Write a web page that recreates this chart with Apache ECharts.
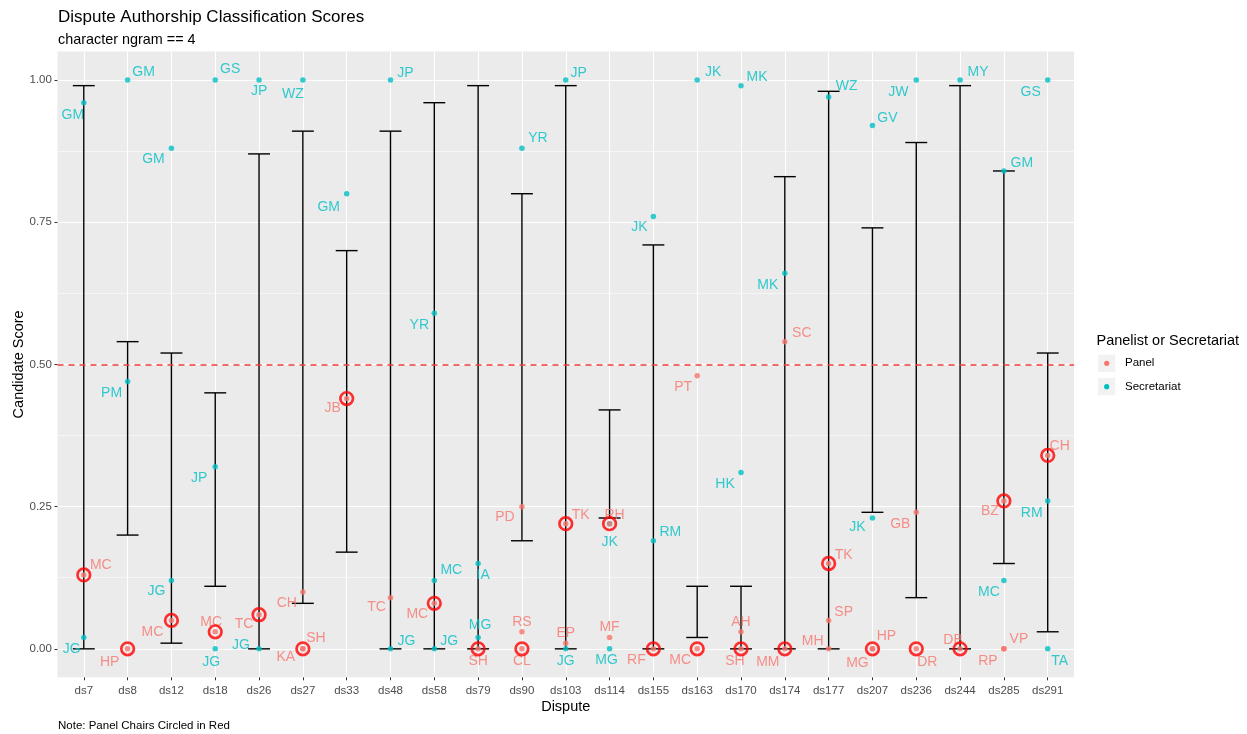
<!DOCTYPE html>
<html>
<head>
<meta charset="utf-8">
<script src="https://cdn.jsdelivr.net/npm/echarts@6/dist/echarts.min.js"></script>
<style>
  html, body { margin: 0; padding: 0; background: #ffffff; }
  #chart { width: 1247px; height: 734px; }
</style>
</head>
<body>
<div id="chart"></div>
<script>
// ---- data -------------------------------------------------------------
const disputes = ['ds7', 'ds8', 'ds12', 'ds18', 'ds26', 'ds27', 'ds33', 'ds48', 'ds58', 'ds79', 'ds90',
  'ds103', 'ds114', 'ds155', 'ds163', 'ds170', 'ds174', 'ds177', 'ds207', 'ds236', 'ds244', 'ds285', 'ds291'];

// score range per dispute (error bar ends)
const rangeLow  = [0.00, 0.20, 0.01, 0.11, 0.00, 0.08, 0.17, 0.00, 0.00, 0.00, 0.19,
  0.00, 0.23, 0.00, 0.02, 0.00, 0.00, 0.00, 0.24, 0.09, 0.00, 0.15, 0.03];
const rangeHigh = [0.99, 0.54, 0.52, 0.45, 0.87, 0.91, 0.70, 0.91, 0.96, 0.99, 0.80,
  0.99, 0.42, 0.71, 0.11, 0.11, 0.83, 0.98, 0.74, 0.89, 0.99, 0.84, 0.52];

// panelists
const panelDispute = ['ds7', 'ds8', 'ds12', 'ds18', 'ds26', 'ds27', 'ds27', 'ds27', 'ds33', 'ds48', 'ds58',
  'ds79', 'ds90', 'ds90', 'ds90', 'ds103', 'ds103', 'ds114', 'ds114', 'ds155', 'ds163', 'ds163',
  'ds170', 'ds170', 'ds174', 'ds174', 'ds177', 'ds177', 'ds177', 'ds207', 'ds207', 'ds236', 'ds236',
  'ds244', 'ds285', 'ds285', 'ds285', 'ds291'];
const panelInitials = ['MC', 'HP', 'MC', 'MC', 'TC', 'CH', 'SH', 'KA', 'JB', 'TC', 'MC',
  'SH', 'PD', 'RS', 'CL', 'TK', 'EP', 'RH', 'MF', 'RF', 'PT', 'MC',
  'AH', 'SH', 'SC', 'MM', 'TK', 'SP', 'MH', 'HP', 'MG', 'GB', 'DR',
  'DB', 'BZ', 'RP', 'VP', 'CH'];
const panelScore = [0.13, 0.00, 0.05, 0.03, 0.06, 0.10, 0.00, 0.00, 0.44, 0.09, 0.08,
  0.00, 0.25, 0.03, 0.00, 0.22, 0.01, 0.22, 0.02, 0.00, 0.48, 0.00,
  0.03, 0.00, 0.54, 0.00, 0.15, 0.05, 0.00, 0.00, 0.00, 0.24, 0.00,
  0.00, 0.26, 0.00, 0.00, 0.34];
// 1 = chair of the panel
const panelChair = [1, 1, 1, 1, 1, 0, 1, 0, 1, 0, 1,
  1, 0, 0, 1, 1, 0, 1, 0, 1, 0, 1,
  0, 1, 0, 1, 1, 0, 0, 1, 0, 0, 1,
  1, 1, 0, 0, 1];

// secretariat staff
const secDispute = ['ds7', 'ds7', 'ds8', 'ds8', 'ds12', 'ds12', 'ds18', 'ds18', 'ds18', 'ds26', 'ds26',
  'ds27', 'ds33', 'ds48', 'ds48', 'ds58', 'ds58', 'ds58', 'ds79', 'ds79', 'ds90', 'ds103', 'ds103',
  'ds114', 'ds114', 'ds155', 'ds155', 'ds163', 'ds170', 'ds170', 'ds174', 'ds177', 'ds207', 'ds207',
  'ds236', 'ds244', 'ds285', 'ds285', 'ds291', 'ds291', 'ds291'];
const secInitials = ['GM', 'JG', 'GM', 'PM', 'GM', 'JG', 'GS', 'JP', 'JG', 'JP', 'JG',
  'WZ', 'GM', 'JP', 'JG', 'YR', 'MC', 'JG', 'IA', 'MG', 'YR', 'JP', 'JG',
  'JK', 'MG', 'JK', 'RM', 'JK', 'MK', 'HK', 'MK', 'WZ', 'GV', 'JK',
  'JW', 'MY', 'GM', 'MC', 'GS', 'RM', 'TA'];
const secScore = [0.96, 0.02, 1.00, 0.47, 0.88, 0.12, 1.00, 0.32, 0.00, 1.00, 0.00,
  1.00, 0.80, 1.00, 0.00, 0.59, 0.12, 0.00, 0.15, 0.02, 0.88, 1.00, 0.00,
  0.22, 0.00, 0.76, 0.19, 1.00, 0.99, 0.31, 0.66, 0.97, 0.92, 0.23,
  1.00, 1.00, 0.84, 0.12, 1.00, 0.26, 0.00];

const yTicks = [0, 0.25, 0.5, 0.75, 1];
const yMinorTicks = [0.125, 0.375, 0.625, 0.875];
const threshold = 0.5;

// ---- text placement (px nudges of each initials label from its point) --
const panelNudge = [[17, -10], [-18, 13], [-19, 12], [-4, -10], [-15, 9], [-16, 11], [13, -11], [-17, 8],
  [-14, 10], [-14, 9], [-17, 11], [0, 12], [-17, 11], [0, -10], [0, 12], [15, -9], [0, -10], [5, -9],
  [0, -10], [-17, 11], [-14, 11], [-17, 11], [0, -10], [-6, 12], [17, -9], [-17, 13], [15, -8], [15, -8],
  [-16, -8], [14, -13], [-15, 14], [-16, 12], [11, 13], [-7, -9], [-14, 10], [-16, 12], [15, -10], [12, -9]];
const secNudge = [[-11, 12], [-12, 12], [16, -8], [-16, 12], [-18, 11], [-15, 11], [15, -11], [-16, 11],
  [-4, 13], [0, 11], [-18, -4], [-10, 14], [-18, 13], [15, -7], [16, -8], [-15, 12], [17, -10], [15, -8],
  [5, 12], [2, -12], [16, -10], [13, -7], [0, 12], [0, 18], [-3, 11], [-14, 11], [17, -9], [16, -8],
  [16, -8], [-16, 12], [-17, 12], [18, -11], [15, -7], [-15, 9], [-18, 12], [18, -8], [18, -8], [-15, 12],
  [-17, 12], [-16, 12], [12, 12]];

// ---- chart ------------------------------------------------------------
const FONT = '"Liberation Sans", Arial, sans-serif';
const PANEL_COLOR = '#F8766D';
const SEC_COLOR = '#00BFC4';

const xIndex = d => disputes.indexOf(d);

function pointItems(dis, ini, sc, nudge) {
  return dis.map((d, i) => ({
    value: [xIndex(d), sc[i]],
    name: ini[i],
    label: { offset: nudge[i] }
  }));
}

const rangeData = disputes.map((d, i) => [i, rangeLow[i], rangeHigh[i]]);
const panelData = pointItems(panelDispute, panelInitials, panelScore, panelNudge);
const secData = pointItems(secDispute, secInitials, secScore, secNudge);
const chairData = panelDispute
  .map((d, i) => panelChair[i] ? [xIndex(d), panelScore[i]] : null)
  .filter(v => v !== null);

const pointLabel = color => ({
  show: true,
  position: 'inside',
  formatter: '{b}',
  color: color,
  fontSize: 14,
  fontFamily: FONT,
  textBorderWidth: 0
});

const chart = echarts.init(document.getElementById('chart'), null, { renderer: 'canvas' });

chart.setOption({
  animation: false,
  backgroundColor: '#ffffff',
  textStyle: { fontFamily: FONT },
  title: {
    text: 'Dispute Authorship Classification Scores',
    subtext: 'character ngram == 4',
    left: 58,
    top: 9,
    padding: 0,
    itemGap: 7,
    textStyle: { fontSize: 17, fontWeight: 'normal', color: '#000000', fontFamily: FONT },
    subtextStyle: { fontSize: 14.4, color: '#000000', fontFamily: FONT }
  },
  grid: {
    left: 57.5,
    right: 173,
    top: 51.5,
    bottom: 56.7,
    outerBoundsMode: 'none',
    containLabel: false,
    show: true,
    backgroundColor: '#EBEBEB',
    borderWidth: 0
  },
  xAxis: {
    type: 'value',
    min: -0.6,
    max: disputes.length - 1 + 0.6,
    name: 'Dispute',
    nameLocation: 'middle',
    nameGap: 22,
    nameMoveOverlap: false,
    nameTextStyle: { fontSize: 14.5, color: '#000000', fontFamily: FONT },
    axisLine: { show: false, onZero: false },
    axisTick: { show: true, length: 3, lineStyle: { color: '#333333', width: 1 },
      customValues: disputes.map((d, i) => i) },
    axisLabel: { show: true, fontSize: 11.5, color: '#4D4D4D', margin: 7.5,
      customValues: disputes.map((d, i) => i),
      formatter: v => disputes[Math.round(v)] },
    splitLine: { show: true, lineStyle: { color: '#FFFFFF', width: 1.1 } }
  },
  yAxis: [{
    type: 'value',
    min: -0.05,
    max: 1.05,
    name: 'Candidate Score',
    nameLocation: 'middle',
    nameGap: 31,
    nameRotate: 90,
    nameMoveOverlap: false,
    nameTextStyle: { fontSize: 14.5, color: '#000000', fontFamily: FONT },
    axisLine: { show: false, onZero: false },
    axisTick: { show: true, length: 3, lineStyle: { color: '#333333', width: 1 }, customValues: yTicks },
    axisLabel: { show: true, fontSize: 11.5, color: '#4D4D4D', margin: 5.6,
      customValues: yTicks, formatter: v => v.toFixed(2) },
    splitLine: { show: true, lineStyle: { color: '#FFFFFF', width: 1.1 } }
  }, {
    type: 'value',
    min: -0.05,
    max: 1.05,
    position: 'left',
    axisLine: { show: false, onZero: false },
    axisTick: { show: false, customValues: yMinorTicks },
    axisLabel: { show: false, customValues: yMinorTicks },
    splitLine: { show: true, lineStyle: { color: '#FFFFFF', width: 0.55 } }
  }],
  series: [
    {
      name: 'range',
      type: 'custom',
      z: 2,
      data: rangeData,
      encode: { x: 0, y: [1, 2] },
      renderItem: (params, api) => {
        const x = api.value(0);
        const lo = api.coord([x, api.value(1)]);
        const hi = api.coord([x, api.value(2)]);
        const half = api.size([0.5, 0])[0] / 2;
        const style = { stroke: '#000000', lineWidth: 1.4 };
        return {
          type: 'group',
          children: [
            { type: 'line', shape: { x1: lo[0], y1: lo[1], x2: hi[0], y2: hi[1] }, style },
            { type: 'line', shape: { x1: lo[0] - half, y1: lo[1], x2: lo[0] + half, y2: lo[1] }, style },
            { type: 'line', shape: { x1: hi[0] - half, y1: hi[1], x2: hi[0] + half, y2: hi[1] }, style }
          ]
        };
      }
    },
    {
      name: 'Secretariat',
      type: 'scatter',
      z: 3,
      symbol: 'circle',
      symbolSize: 5.5,
      itemStyle: { color: SEC_COLOR },
      label: pointLabel(SEC_COLOR),
      data: secData,
      markLine: {
        silent: true,
        symbol: ['none', 'none'],
        label: { show: false },
        lineStyle: { color: '#F63B3B', type: [6, 5], width: 1.5 },
        data: [{ yAxis: threshold }]
      }
    },
    {
      name: 'Panel',
      type: 'scatter',
      z: 3,
      symbol: 'circle',
      symbolSize: 5.5,
      itemStyle: { color: PANEL_COLOR },
      label: pointLabel(PANEL_COLOR),
      data: panelData
    },
    {
      name: 'Chair',
      type: 'scatter',
      z: 4,
      symbol: 'circle',
      symbolSize: 12.6,
      itemStyle: { color: 'rgba(0,0,0,0)', borderColor: '#FF0000', borderWidth: 2.7 },
      data: chairData
    }
  ],
  graphic: [
    // legend
    { type: 'text', left: 1096.5, top: 333, style: { text: 'Panelist or Secretariat', fontSize: 14.5, fill: '#000000', fontFamily: FONT } },
    { type: 'rect', shape: { x: 1098, y: 354.7, width: 17.3, height: 17.3 }, style: { fill: '#F2F2F2' } },
    { type: 'rect', shape: { x: 1098, y: 378, width: 17.3, height: 17.3 }, style: { fill: '#F2F2F2' } },
    { type: 'circle', shape: { cx: 1106.7, cy: 363.3, r: 2.6 }, style: { fill: PANEL_COLOR } },
    { type: 'circle', shape: { cx: 1106.7, cy: 386.7, r: 2.6 }, style: { fill: SEC_COLOR } },
    { type: 'text', x: 1125, y: 363.3, style: { text: 'Panel', fontSize: 11.5, fill: '#000000', fontFamily: FONT, verticalAlign: 'middle' } },
    { type: 'text', x: 1125, y: 386.7, style: { text: 'Secretariat', fontSize: 11.5, fill: '#000000', fontFamily: FONT, verticalAlign: 'middle' } },
    // caption
    { type: 'text', x: 58, y: 726, style: { text: 'Note: Panel Chairs Circled in Red', fontSize: 11.5, fill: '#000000', fontFamily: FONT, verticalAlign: 'middle' } }
  ]
});
</script>
</body>
</html>
